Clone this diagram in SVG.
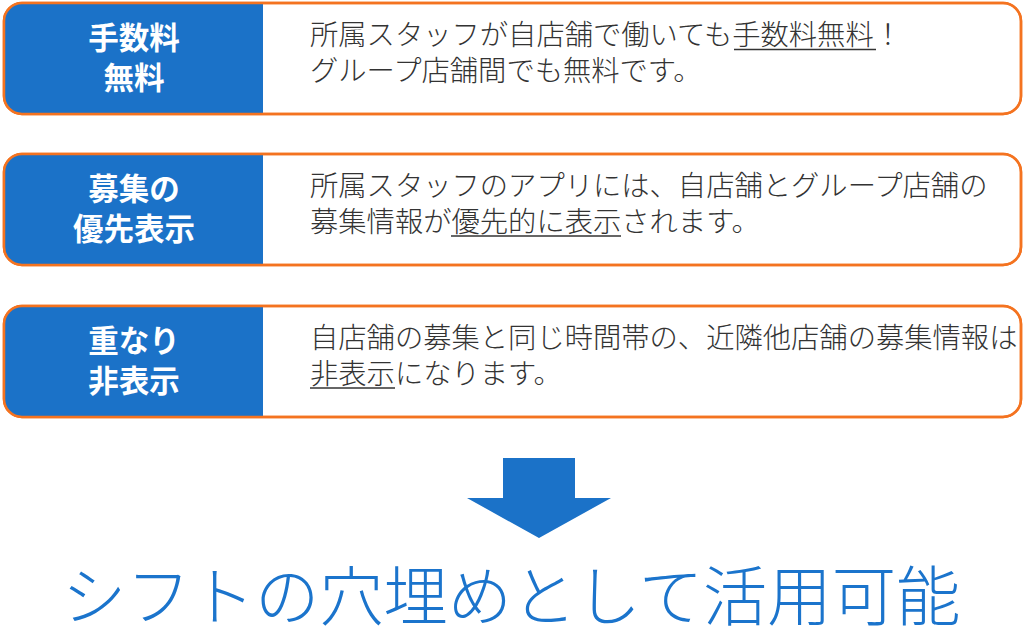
<svg xmlns="http://www.w3.org/2000/svg" width="1024" height="636" viewBox="0 0 1024 636">
<style>
.frame{fill:#fff;stroke:#F47320;stroke-width:2.5}
.tab{fill:#1B72C8}
.lbl{font-family:"Noto Sans CJK JP","Noto Sans",sans-serif;font-weight:700;font-size:30.5px;fill:#fff;text-anchor:middle}
.body{font-family:"Noto Sans CJK JP","Noto Sans",sans-serif;font-weight:300;font-size:28.3px;fill:#333}
.ul{stroke:#333;stroke-width:1.6}
.big{font-family:"Noto Sans CJK JP","Noto Sans",sans-serif;font-weight:300;font-size:64.3px;fill:#1B74CC}
</style>
<defs>
<clipPath id="c1"><rect x="4" y="3" width="1017" height="111" rx="18"/></clipPath>
<clipPath id="c2"><rect x="4" y="154" width="1017" height="111" rx="18"/></clipPath>
<clipPath id="c3"><rect x="4" y="306" width="1017" height="111" rx="18"/></clipPath>
</defs>
<g id="node1">
<rect class="frame" x="4" y="3" width="1017" height="111" rx="18"/>
<rect class="tab" x="4" y="3" width="259" height="111" clip-path="url(#c1)"/>
<rect x="4" y="3" width="1017" height="111" rx="18" fill="none" stroke="#F47320" stroke-width="2.5"/>
<text class="lbl" x="134" y="49">手数料</text>
<text class="lbl" x="134" y="89">無料</text>
<text class="body" x="310" y="45">所属スタッフが自店舗で働いても手数料無料！</text>
<line class="ul" x1="734" y1="49.5" x2="876" y2="49.5"/>
<text class="body" x="310" y="81">グループ店舗間でも無料です。</text>
</g>
<g id="node2">
<rect class="frame" x="4" y="154" width="1017" height="111" rx="18"/>
<rect class="tab" x="4" y="154" width="259" height="111" clip-path="url(#c2)"/>
<rect x="4" y="154" width="1017" height="111" rx="18" fill="none" stroke="#F47320" stroke-width="2.5"/>
<text class="lbl" x="134" y="200">募集の</text>
<text class="lbl" x="134" y="240">優先表示</text>
<text class="body" x="310" y="196">所属スタッフのアプリには、自店舗とグループ店舗の</text>
<text class="body" x="310" y="232">募集情報が優先的に表示されます。</text>
<line class="ul" x1="451" y1="236" x2="621" y2="236"/>
</g>
<g id="node3">
<rect class="frame" x="4" y="306" width="1017" height="111" rx="18"/>
<rect class="tab" x="4" y="306" width="259" height="111" clip-path="url(#c3)"/>
<rect x="4" y="306" width="1017" height="111" rx="18" fill="none" stroke="#F47320" stroke-width="2.5"/>
<text class="lbl" x="134" y="352">重なり</text>
<text class="lbl" x="134" y="392">非表示</text>
<text class="body" x="310" y="348">自店舗の募集と同じ時間帯の、近隣他店舗の募集情報は</text>
<text class="body" x="310" y="384">非表示になります。</text>
<line class="ul" x1="310" y1="388" x2="395" y2="388"/>
</g>
<g id="connectors">
<polygon points="503,458 575,458 575,498 611,498 539,538 467,498 503,498" fill="#1B72C8"/>
</g>
<g id="result">
<text class="big" x="62" y="620">シフトの穴埋めとして活用可能</text>
</g>
</svg>
